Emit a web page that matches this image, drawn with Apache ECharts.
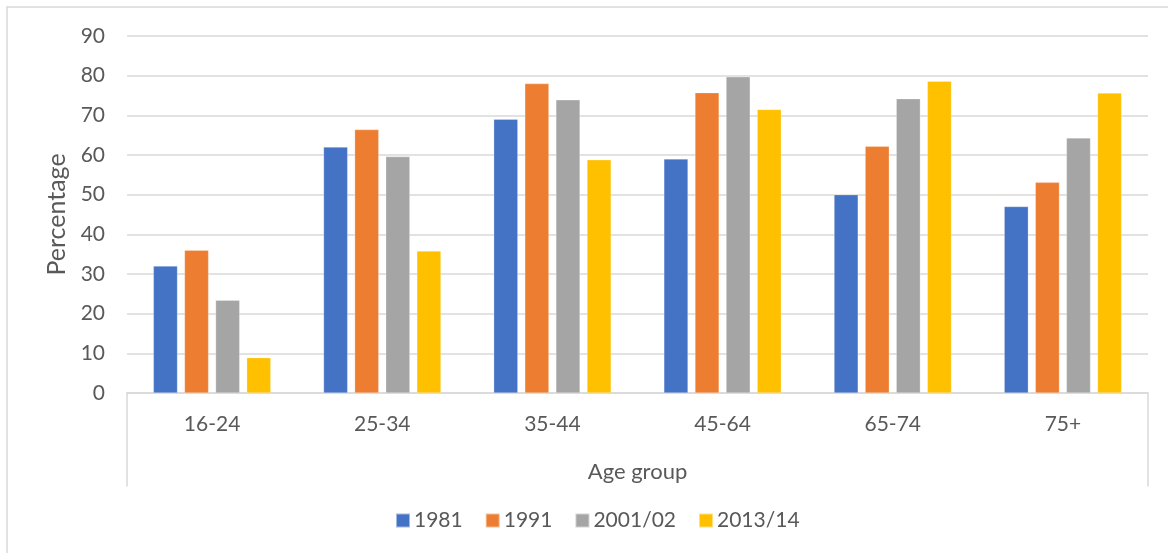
<!DOCTYPE html>
<html>
<head>
<meta charset="utf-8">
<script src="https://cdn.jsdelivr.net/npm/echarts@6/dist/echarts.min.js"></script>
<style>
  html, body { margin: 0; padding: 0; background: #ffffff; }
  #chart { width: 1168px; height: 553px; }
</style>
</head>
<body>
<div id="chart"></div>
<script>
// Share of people in each age group, by survey year (percent)
const ageGroups = ['16-24', '25-34', '35-44', '45-64', '65-74', '75+'];
const years = ['1981', '1991', '2001/02', '2013/14'];
const values1981 = [32, 62, 69, 59, 50, 47];
const values1991 = [36, 66.4, 78, 75.7, 62.2, 53.1];
const values2001 = [23.4, 59.6, 73.9, 79.7, 74.2, 64.3];
const values2013 = [8.9, 35.8, 58.8, 71.5, 78.6, 75.6];
const yTicks = { min: 0, max: 90, step: 10 };

const palette = ['#4472c4', '#ed7d31', '#a5a5a5', '#ffc000'];
const seriesValues = [values1981, values1991, values2001, values2013];
const textColor = '#595959';
const lineColor = '#d9d9d9';
const fontFamily = 'Lato, "Open Sans", sans-serif';

const chart = echarts.init(document.getElementById('chart'), null, { renderer: 'canvas' });

const option = {
  animation: false,
  backgroundColor: '#ffffff',
  color: palette,
  textStyle: { fontFamily: fontFamily, color: textColor },
  graphic: [{
    type: 'rect',
    shape: { x: 7, y: 7, width: 1300, height: 700 },
    style: { fill: 'none', stroke: lineColor, lineWidth: 1.5 },
    silent: true,
    z: -10
  }],
  legend: {
    data: years,
    bottom: 17,
    left: 390,
    itemWidth: 14,
    itemHeight: 14,
    itemGap: 22,
    icon: 'rect',
    textStyle: { fontSize: 21, color: textColor, fontFamily: fontFamily, padding: [0, 0, 0, -1] }
  },
  grid: [
    { left: 127, right: 20, top: 36, bottom: 160 },
    { left: 127, right: 20, top: 393, height: 93 }
  ],
  xAxis: [{
    type: 'category',
    gridIndex: 0,
    data: ageGroups,
    name: 'Age group',
    nameLocation: 'middle',
    nameGap: 68,
    nameTextStyle: { fontSize: 22, color: textColor, fontFamily: fontFamily },
    axisLine: { show: true, lineStyle: { color: lineColor, width: 1.5 } },
    axisTick: { show: false },
    axisLabel: { fontSize: 21, color: textColor, margin: 21, fontFamily: fontFamily },
    splitLine: { show: false }
  }, {
    type: 'category',
    gridIndex: 1,
    data: ageGroups,
    show: false
  }],
  yAxis: [{
    type: 'value',
    gridIndex: 0,
    min: yTicks.min,
    max: yTicks.max,
    interval: yTicks.step,
    name: 'Percentage',
    nameLocation: 'middle',
    nameGap: 54,
    nameTextStyle: { fontSize: 25, color: textColor, fontFamily: fontFamily },
    axisLine: { show: false },
    axisTick: { show: false },
    axisLabel: { fontSize: 21, color: textColor, margin: 22, fontFamily: fontFamily },
    splitLine: { show: true, lineStyle: { color: lineColor, width: 1.5 } }
  }, {
    // left edge line of the category label band
    type: 'value',
    gridIndex: 1,
    position: 'left',
    axisLine: { show: true, lineStyle: { color: lineColor, width: 1.5 } },
    axisTick: { show: false },
    axisLabel: { show: false },
    splitLine: { show: false }
  }, {
    // right edge line of the category label band
    type: 'value',
    gridIndex: 1,
    position: 'right',
    axisLine: { show: true, lineStyle: { color: lineColor, width: 1.5 } },
    axisTick: { show: false },
    axisLabel: { show: false },
    splitLine: { show: false }
  }],
  series: years.map((name, i) => ({
    name: name,
    type: 'bar',
    xAxisIndex: 0,
    yAxisIndex: 0,
    data: seriesValues[i],
    barGap: '29%',
    barCategoryGap: '31%',
    itemStyle: { color: palette[i], borderColor: 'rgba(255,255,255,0.5)', borderWidth: 0.5 }
  }))
};

chart.setOption(option);
</script>
</body>
</html>
